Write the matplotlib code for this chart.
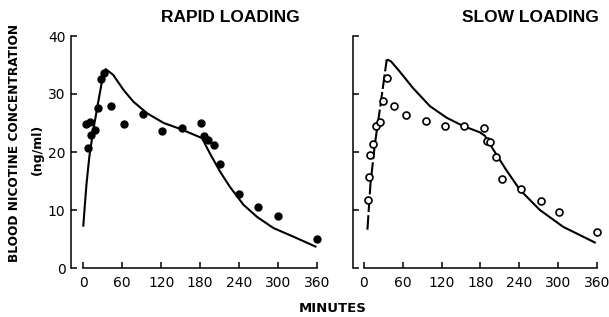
import matplotlib

matplotlib.use("Agg")
import matplotlib.pyplot as plt

# Rapid loading: measured points (filled) and model curve
rapid_t = [4, 10, 7, 12, 18, 23, 28, 32, 42, 62, 92, 122, 152, 182, 186, 192, 201, 211, 240, 270, 300, 360]
rapid_c = [24.9, 25.2, 20.7, 22.9, 23.8, 27.6, 32.5, 33.6, 28.0, 24.8, 26.5, 23.7, 24.2, 25.0, 22.8, 22.0, 21.2, 17.9, 12.7, 10.5, 9.0, 5.0]
rapid_fit_t = [0, 2.6, 5, 9.3, 15.4, 23.1, 29.3, 34.5, 46, 62, 77, 98, 124, 149, 183, 195, 211, 226, 247, 268, 293, 324, 358]
rapid_fit_c = [7.3, 11.2, 14.6, 19.2, 23.8, 28.7, 32.5, 34.3, 33.3, 30.7, 28.7, 26.7, 25.0, 24.0, 22.4, 19.8, 16.6, 14.0, 10.9, 8.8, 6.9, 5.4, 3.7]

# Slow loading: measured points (open) and model curve (dashed during loading)
slow_t = [6, 8, 10, 14, 19, 25, 30, 36, 46, 65, 96, 125, 155, 185, 190, 195, 204, 214, 243, 273, 302, 361]
slow_c = [11.7, 15.7, 19.5, 21.4, 24.4, 25.1, 28.8, 32.8, 27.9, 26.3, 25.3, 24.5, 24.5, 24.1, 21.9, 21.8, 19.1, 15.3, 13.6, 11.5, 9.7, 6.2]
slow_rise_t = [5.3, 10, 17, 26, 35]
slow_rise_c = [6.6, 14.5, 21.5, 28.5, 35.8]
slow_fit_t = [35, 37, 42, 55, 76, 102, 128, 153, 179, 187, 200, 220, 241, 272, 308, 357]
slow_fit_c = [35.8, 35.9, 35.6, 33.9, 31.0, 27.9, 25.9, 24.5, 23.4, 22.8, 20.4, 16.9, 13.5, 10.0, 7.1, 4.4]

XTICKS = [0, 60, 120, 180, 240, 300, 360]
YTICKS = [0, 10, 20, 30, 40]

fig = plt.figure(figsize=(6.09, 3.17), dpi=100)
ax1 = fig.add_axes([71 / 609, 49 / 317, 249 / 609, 232 / 317])
ax2 = fig.add_axes([353 / 609, 49 / 317, 247 / 609, 232 / 317])


def style_axis(ax, xmin, show_ylabels):
    ax.set_xlim(xmin, 365)
    ax.set_ylim(0, 40)
    for side in ("top", "right"):
        ax.spines[side].set_visible(False)
    ax.spines["left"].set_bounds(0, 40)
    ax.spines["bottom"].set_bounds(0, 360)
    for side in ("left", "bottom"):
        ax.spines[side].set_linewidth(1.1)
    ax.set_xticks(XTICKS)
    ax.set_yticks(YTICKS)
    ax.tick_params(direction="in", length=4, width=1.1, labelsize=10, pad=4)
    ax.tick_params(axis="x", pad=6)
    if not show_ylabels:
        ax.set_yticklabels([])
    ax.patch.set_visible(False)


style_axis(ax1, -19, True)
style_axis(ax2, -17, False)

ax1.plot(rapid_fit_t, rapid_fit_c, color="black", linewidth=1.5)
ax1.plot(rapid_t, rapid_c, "o", color="black", markersize=5, clip_on=False)

ax2.plot(slow_rise_t, slow_rise_c, color="black", linewidth=1.5, dashes=(7, 1.5))
ax2.plot(slow_fit_t, slow_fit_c, color="black", linewidth=1.5)
ax2.plot(slow_t, slow_c, "o", markerfacecolor="white", markeredgecolor="black",
         markeredgewidth=1.2, markersize=5, clip_on=False)

fig.text(230 / 609, 1 - 18 / 317, "RAPID LOADING", ha="center", va="center",
         fontsize=12.5, fontweight="bold", family="Liberation Sans")
fig.text(530 / 609, 1 - 18 / 317, "SLOW LOADING", ha="center", va="center",
         fontsize=12.5, fontweight="bold", family="Liberation Sans")
fig.text(333 / 609, 1 - 309 / 317, "MINUTES", ha="center", va="center",
         fontsize=9.5, fontweight="bold")
fig.text(15 / 609, 1 - 143 / 317, "BLOOD NICOTINE CONCENTRATION", ha="center",
         va="center", rotation=90, fontsize=8.7, fontweight="bold")
fig.text(37 / 609, 1 - 149 / 317, "(ng/ml)", ha="center", va="center",
         rotation=90, fontsize=9, fontweight="bold")

fig.savefig("out.png", dpi=100)
